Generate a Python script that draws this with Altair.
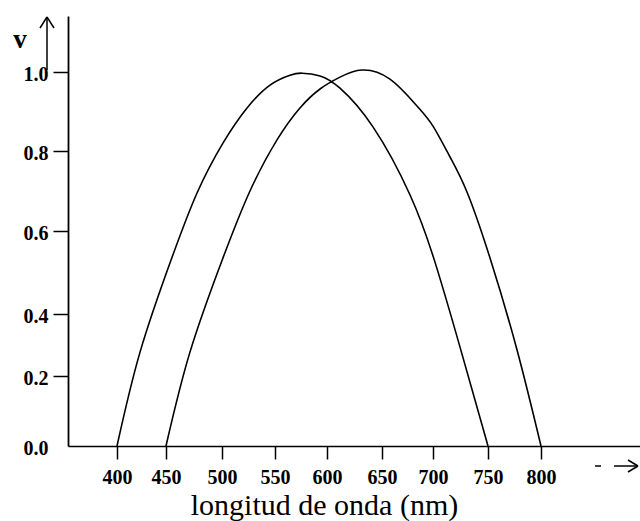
import altair as alt
import pandas as pd

# --- data ---
wl_left = [400, 423.5, 454.5, 477.7, 500.9, 523.6, 545.3, 564.4, 576, 593.3, 611.8, 641.8, 677.5, 701.8, 724.5, 750]
v_left = [0.0, 0.277, 0.53, 0.695, 0.82, 0.909, 0.967, 0.992, 0.997, 0.99, 0.959, 0.861, 0.69, 0.525, 0.294, 0.0]
wl_right = [450, 471.4, 500.9, 526.4, 551.9, 574, 593.3, 611.8, 631.8, 657.8, 684.3, 700, 715.5, 730.9, 751.9, 777.4, 800]
v_right = [0.0, 0.277, 0.535, 0.70, 0.828, 0.909, 0.957, 0.987, 1.005, 0.982, 0.914, 0.863, 0.785, 0.6975, 0.535, 0.284, 0.0]

x_ticks = [400, 450, 500, 550, 600, 650, 700, 750, 800]
y_ticks = [0.0, 0.2, 0.4, 0.6, 0.8, 1.0]

x_title = "longitud de onda (nm)"
y_label = "v"

df = pd.concat([
    pd.DataFrame({"wl": wl_left, "v": v_left, "curva": "a"}),
    pd.DataFrame({"wl": wl_right, "v": v_right, "curva": "b"}),
])

FONT = "Liberation Serif"
W, H = 572, 430

# hand-drawn axes: piecewise scales follow the printed tick positions
x_scale = alt.Scale(
    domain=[350, 400, 450, 500, 550, 600, 650, 700, 750, 800, 893],
    range=[0, 49, 98, 154, 207, 259, 314, 365, 420, 473, 572],
    nice=False, zero=False,
)
y_scale = alt.Scale(
    domain=[0.0, 0.2, 0.4, 0.6, 0.8, 1.0, 1.142],
    range=[430, 360, 298, 215, 135, 56, 0],
    nice=False, zero=False,
)

curves = alt.Chart(df).mark_line(
    color="black", strokeWidth=1.6, interpolate="natural", clip=False
).encode(
    x=alt.X("wl:Q", scale=x_scale, axis=alt.Axis(
        values=x_ticks, title=x_title, grid=False,
        domainColor="black", domainWidth=1.5,
        tickColor="black", tickWidth=1.5, tickSize=13,
        labelFont=FONT, labelFontSize=20, labelFontWeight="bold", labelColor="black",
        labelPadding=24, labelBaseline="alphabetic", labelFlush=False,
        titleFont=FONT, titleFontSize=30, titleFontWeight="normal", titleColor="black",
        titleX=256, titleY=68, titleBaseline="alphabetic", titleAnchor="middle",
        titleAlign="center",
    )),
    y=alt.Y("v:Q", scale=y_scale, axis=alt.Axis(
        values=y_ticks, format=".1f", title=None, grid=False,
        domainColor="black", domainWidth=1.8,
        tickColor="black", tickWidth=1.5, tickSize=15,
        tickOpacity={"condition": {"test": "datum.value === 0", "value": 0}, "value": 1},
        labelFont=FONT, labelFontSize=20, labelFontWeight="bold", labelColor="black",
        labelPadding=5, labelOffset=2, labelFlush=False,
    )),
    detail="curva:N",
)

one = pd.DataFrame({"k": [0]})

v_text = alt.Chart(one).mark_text(
    text=y_label, font=FONT, fontSize=27, fontWeight="bold", color="black",
    align="center", baseline="alphabetic",
).encode(x=alt.value(-48), y=alt.value(32))

def seg(x1, y1, x2, y2, w=1.5):
    return alt.Chart(one).mark_rule(color="black", strokeWidth=w).encode(
        x=alt.value(x1), y=alt.value(y1), x2=alt.value(x2), y2=alt.value(y2)
    )

arrows = [
    # up arrow next to "v"
    seg(-21, 1, -21, 54),
    seg(-21, 1, -28, 12),
    seg(-21, 1, -14, 12),
    # right arrow under the x axis
    seg(527, 450, 533, 450),
    seg(546, 450, 570, 450),
    seg(570, 450, 560, 444),
    seg(570, 450, 560, 456),
]

chart = alt.layer(curves, v_text, *arrows).properties(
    width=W, height=H,
    padding={"left": 68, "top": 16, "right": 0, "bottom": 75},
    autosize=alt.AutoSizeParams(type="none"),
    background="white",
).configure_view(stroke=None)

chart.save("out.html", embed_options={"renderer": "svg", "actions": False})
